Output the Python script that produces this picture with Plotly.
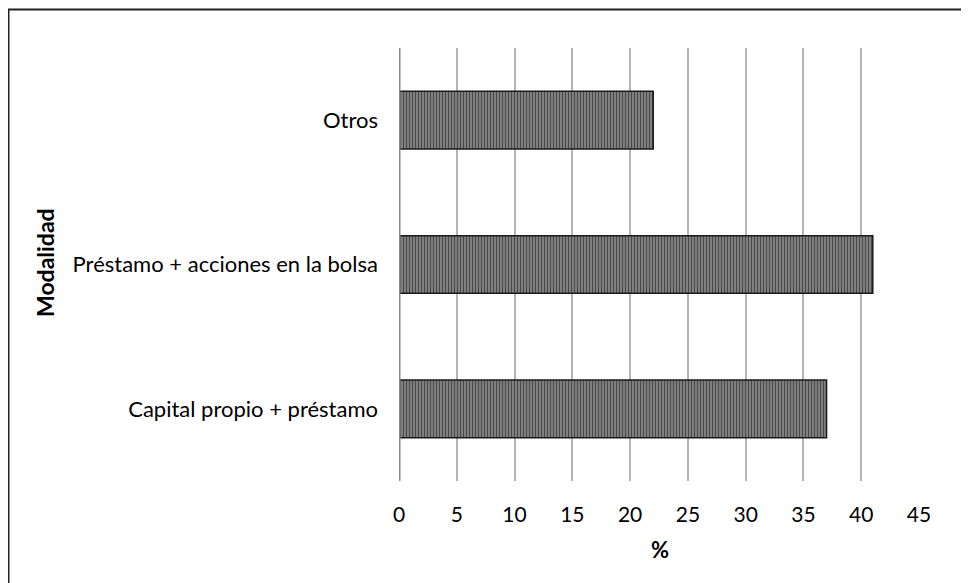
import plotly.graph_objects as go

categories = ["Capital propio + préstamo", "Préstamo + acciones en la bolsa", "Otros"]
values = [37, 41, 22]
x_ticks = [0, 5, 10, 15, 20, 25, 30, 35, 40, 45]

FONT = "Lato"
L, T, PW, PH = 391, 40, 520, 433
W, H = 961, 575

fig = go.Figure()
fig.add_trace(go.Bar(
    y=categories,
    x=values,
    orientation="h",
    marker=dict(
        color="#777777",
        line=dict(color="#1a1a1a", width=1.5),
        pattern=dict(shape="|", size=3, solidity=0.4, fgcolor="#0a0a0a", bgcolor="#858585", fillmode="overlay"),
    ),
    width=0.4,
    showlegend=False,
))

fig.update_layout(
    width=W,
    height=H,
    paper_bgcolor="white",
    plot_bgcolor="white",
    margin=dict(l=L, r=W - L - PW, t=T, b=H - T - PH),
    font=dict(family=FONT, size=22, color="#000000"),
    xaxis=dict(
        range=[0, 45],
        tickvals=x_ticks,
        ticktext=[str(v) for v in x_ticks],
        showgrid=True,
        gridcolor="#b4b4b4",
        gridwidth=2,
        zeroline=False,
        showline=False,
        ticks="",
        ticklabelstandoff=19,
        tickfont=dict(family=FONT, size=21, color="#000000"),
    ),
    yaxis=dict(
        categoryorder="array",
        categoryarray=categories,
        range=[-0.5, 2.5],
        showgrid=False,
        zeroline=False,
        showline=False,
        ticks="",
        ticklabelstandoff=20,
        tickfont=dict(family=FONT, size=22, color="#000000"),
    ),
    shapes=[
        dict(type="line", xref="x", yref="paper", x0=0, x1=0, y0=0, y1=1,
             line=dict(color="#8c8c8c", width=3)),
        dict(type="line", xref="paper", yref="paper", x0=(0 - L) / PW, x1=(W - L) / PW, y0=1 + (T - 1.5) / PH, y1=1 + (T - 1.5) / PH,
             line=dict(color="#222222", width=2)),
        dict(type="line", xref="paper", yref="paper", x0=(0.5 - L) / PW, x1=(0.5 - L) / PW, y0=-(H - T - PH) / PH, y1=1 + (T - 1.5) / PH,
             line=dict(color="#222222", width=2)),
    ],
    annotations=[
        dict(text="<b>%</b>", xref="paper", yref="paper", x=(652 - L) / PW, y=-(541 - (T + PH)) / PH,
             showarrow=False, xanchor="center", yanchor="middle", font=dict(family=FONT, size=22, color="#000000")),
        dict(text="<b>Modalidad</b>", xref="paper", yref="paper", x=(37 - L) / PW, y=(T + PH - 255) / PH,
             showarrow=False, xanchor="center", yanchor="middle", textangle=-90,
             font=dict(family=FONT, size=23, color="#000000")),
    ],
)

fig.write_html("out.html")
